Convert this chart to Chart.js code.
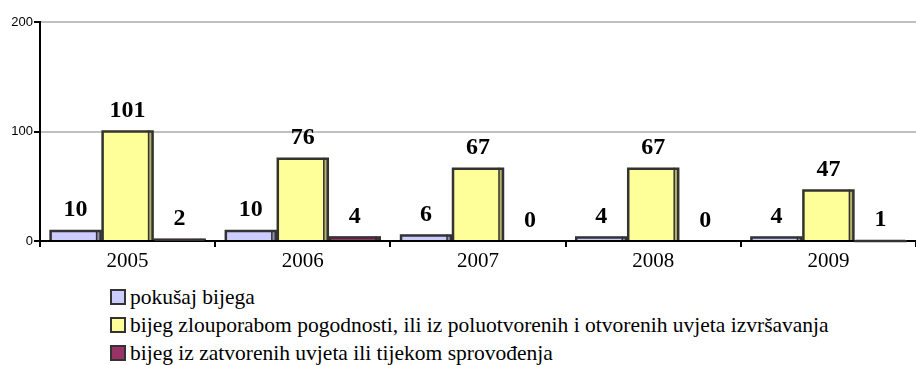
<!DOCTYPE html>
<html>
<head>
<meta charset="utf-8">
<script src="https://cdn.jsdelivr.net/npm/chart.js@4/dist/chart.umd.min.js"></script>
<style>
  html, body { margin: 0; padding: 0; background: #fff; }
  #wrap { position: relative; width: 916px; height: 365px; }
  #chartBox { position: absolute; left: 0; top: 0; width: 916px; height: 280px; }
  #legend { position: absolute; left: 110px; top: 283px; color: #000; }
  .row { height: 28px; line-height: 28px; white-space: nowrap; display: flex; align-items: center;
         font-family: 'Liberation Serif', serif; font-size: 21.5px; }
  .sw { width: 12px; height: 12px; border: 2px solid #333; margin-right: 4px; box-sizing: content-box; }
</style>
</head>
<body>
<div id="wrap">
  <div id="chartBox"><canvas id="c"></canvas></div>
  <div id="legend"></div>
</div>
<script>
const years = ['2005', '2006', '2007', '2008', '2009'];
const seriesNames = [
  'pokušaj bijega',
  'bijeg zlouporabom pogodnosti, ili iz poluotvorenih i otvorenih uvjeta izvršavanja',
  'bijeg iz zatvorenih uvjeta ili tijekom sprovođenja'
];
const attempted = [10, 10, 6, 4, 4];
const fromOpen = [101, 76, 67, 67, 47];
const fromClosed = [2, 4, 0, 0, 1];
const yTicks = [0, 100, 200];

const fills = ['#CCCCFF', '#FFFF99', '#993366'];
const sides = ['#8F8FB3', '#B3B36B', '#6B2447'];

// Outline, right-hand depth face on each bar, and the value label above it
const barExtras = {
  id: 'barExtras',
  afterDatasetsDraw(chart) {
    const ctx = chart.ctx;
    chart.data.datasets.forEach((ds, di) => {
      const meta = chart.getDatasetMeta(di);
      meta.data.forEach((bar, i) => {
        const left = bar.x - bar.width / 2;
        const right = bar.x + bar.width / 2;
        const top = bar.y;
        const base = bar.base;
        if (ds.data[i] > 0) {
          ctx.save();
          if (base - top > 1) {
            ctx.fillStyle = sides[di];
            ctx.fillRect(right - 5, top + 1, 4, base - top - 1);
            ctx.strokeStyle = '#333';
            ctx.lineWidth = 1.5;
            ctx.beginPath();
            ctx.moveTo(right - 5, top);
            ctx.lineTo(right - 5, base);
            ctx.stroke();
          }
          ctx.strokeStyle = '#333';
          ctx.lineWidth = 2.5;
          ctx.beginPath();
          ctx.moveTo(left + 1, base);
          ctx.lineTo(left + 1, top + 1);
          ctx.lineTo(right - 1, top + 1);
          ctx.lineTo(right - 1, base);
          ctx.stroke();
          ctx.restore();
        }

        ctx.save();
        ctx.font = 'bold 24px "Liberation Serif", serif';
        ctx.fillStyle = '#000';
        ctx.textAlign = 'center';
        ctx.textBaseline = 'middle';
        ctx.fillText(String(ds.data[i]), bar.x, top - 20);
        ctx.restore();
      });
    });
  }
};

new Chart(document.getElementById('c'), {
  type: 'bar',
  data: {
    labels: years,
    datasets: [attempted, fromOpen, fromClosed].map((d, i) => ({
      label: seriesNames[i],
      data: d,
      backgroundColor: fills[i],
      borderWidth: 0,
      categoryPercentage: 0.89,
      barPercentage: 1.0
    }))
  },
  options: {
    responsive: true,
    maintainAspectRatio: false,
    animation: false,
    layout: { padding: { top: 22, right: 0, left: 0, bottom: 0 } },
    plugins: { legend: { display: false }, tooltip: { enabled: false } },
    scales: {
      x: {
        grid: { offset: true, drawOnChartArea: false, drawTicks: true, tickLength: 6, color: '#000', lineWidth: 2 },
        border: { display: true, color: '#000', width: 2 },
        ticks: { color: '#000', font: { family: '"Liberation Serif", serif', size: 21 }, padding: 2 },
        afterFit(s) { s.height = 39; }
      },
      y: {
        min: 0, max: 200,
        afterBuildTicks(s) { s.ticks = yTicks.map(v => ({ value: v })); },
        grid: { color: '#C0C0C0', lineWidth: 2, tickColor: '#000', tickLength: 6, drawTicks: true },
        border: { display: true, color: '#000', width: 2 },
        ticks: { color: '#000', font: { family: '"Liberation Sans", Arial, sans-serif', size: 13 }, padding: 1 },
        afterFit(s) { s.width = 40; }
      }
    }
  },
  plugins: [barExtras]
});

const legend = document.getElementById('legend');
seriesNames.forEach((name, i) => {
  const row = document.createElement('div');
  row.className = 'row';
  const sw = document.createElement('span');
  sw.className = 'sw';
  sw.style.background = fills[i];
  const t = document.createElement('span');
  t.textContent = name;
  row.appendChild(sw);
  row.appendChild(t);
  legend.appendChild(row);
});
</script>
</body>
</html>
